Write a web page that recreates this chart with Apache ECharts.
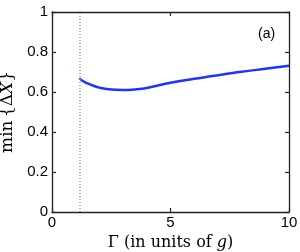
<!DOCTYPE html>
<html>
<head>
<meta charset="utf-8">
<script src="https://cdn.jsdelivr.net/npm/echarts@6/dist/echarts.min.js"></script>
<style>html,body{margin:0;padding:0;background:#fff}#c{width:300px;height:252px}</style>
</head>
<body>
<div id="c"></div>
<script>
var gammaValues = [1.15, 1.3, 1.5, 1.75, 2, 2.5, 3, 3.5, 4, 5, 6, 7, 8, 9, 10];
var minDeltaX = [0.668, 0.655, 0.643, 0.631, 0.622, 0.612, 0.610, 0.613, 0.620, 0.646, 0.666, 0.684, 0.701, 0.716, 0.731];
var thresholdGamma = 1.15;
var xTicks = [0, 5, 10];
var yTicks = [0, 0.2, 0.4, 0.6, 0.8, 1];
var panelLabel = '(a)';

var chart = echarts.init(document.getElementById('c'), null, {renderer: 'canvas'});
var lineData = gammaValues.map(function (g, i) { return [g, minDeltaX[i]]; });
var tickFont = {fontFamily: 'Liberation Sans', fontSize: 15, color: '#000'};
var baseAxis = function (extra) {
  return Object.assign({
    axisLine: {show: true, onZero: false, lineStyle: {color: '#222', width: 1.3}},
    axisTick: {show: true, inside: true, length: 4, lineStyle: {color: '#222', width: 1.2}},
    splitLine: {show: false}
  }, extra);
};
var serif = 'DejaVu Serif';
chart.setOption({
  animation: false,
  grid: {left: 52, right: 11, top: 12, bottom: 40, outerBoundsMode: 'none', containLabel: false},
  xAxis: [
    baseAxis({
      type: 'value', min: 0, max: 10, interval: 5, position: 'bottom',
      axisLabel: Object.assign({margin: 3}, tickFont),
      name: '{n|Γ (in units of }{i|g}{n|)}',
      nameLocation: 'middle', nameGap: 21,
      nameTextStyle: {color: '#000', fontFamily: serif, fontSize: 16, rich: {
        n: {fontFamily: serif, fontSize: 16, color: '#000'},
        i: {fontFamily: serif, fontStyle: 'italic', fontSize: 16, color: '#000'}
      }}
    }),
    baseAxis({type: 'value', min: 0, max: 10, interval: 5, position: 'top', axisLabel: {show: false}})
  ],
  yAxis: [
    baseAxis({
      type: 'value', min: 0, max: 1, interval: 0.2, position: 'left',
      axisLabel: Object.assign({margin: 4, formatter: function (v) { return String(Math.round(v * 10) / 10); }}, tickFont),
      name: '{n|min\u2009{Δ}{i|X}}',
      nameLocation: 'middle', nameGap: 28, nameRotate: 90,
      nameTextStyle: {color: '#000', fontFamily: serif, fontSize: 17, rich: {
        n: {fontFamily: serif, fontSize: 17, color: '#000'},
        i: {fontFamily: serif, fontStyle: 'italic', fontSize: 17, color: '#000'}
      }}
    }),
    baseAxis({type: 'value', min: 0, max: 1, interval: 0.2, position: 'right', axisLabel: {show: false}})
  ],
  series: [{
    type: 'line',
    data: lineData,
    smooth: 0.4,
    showSymbol: false,
    lineStyle: {color: '#1f33ff', width: 2.5},
    markLine: {
      silent: true, symbol: 'none', label: {show: false},
      lineStyle: {color: '#999', type: [1, 2], width: 1.5},
      data: [{xAxis: thresholdGamma}]
    }
  }],
  graphic: [{
    type: 'text', left: 258, top: 27,
    style: {text: panelLabel, font: '14px "Liberation Sans"', fill: '#000'}
  }]
});
</script>
</body>
</html>
